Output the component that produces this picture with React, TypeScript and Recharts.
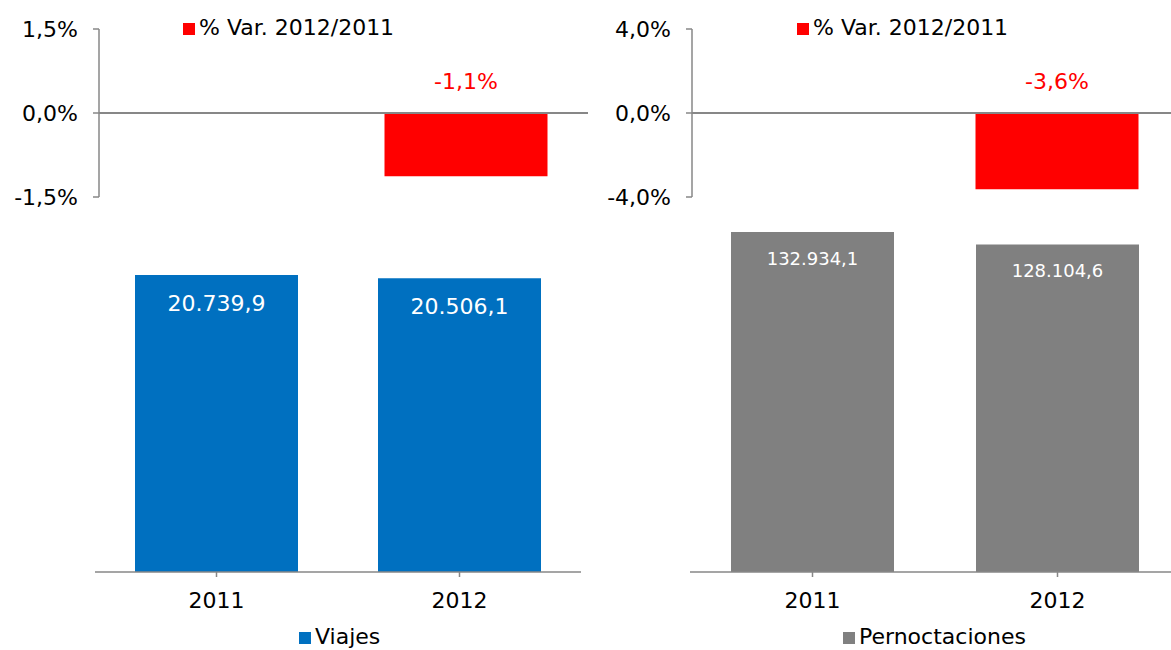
import React from "react";
import { BarChart, Bar, XAxis, YAxis, ReferenceLine, LabelList, Legend } from "recharts";

const years = ["2011", "2012"];
const viajes = [20739.9, 20506.1];
const pernoctaciones = [132934.1, 128104.6];
const varViajes = [null, -1.13];
const varPernoctaciones = [null, -3.63];
const viajesPctTicks = [-1.5, 0, 1.5];
const pernoctPctTicks = [-4, 0, 4];

const FONT = "'DejaVu Sans', Verdana, sans-serif";
const AXIS = "#878787";
const BLUE = "#0070C0";
const GREY = "#808080";
const RED = "#FF0000";

const pct = (v: number) => v.toFixed(1).replace(".", ",") + "%";
const num = (v: number) => {
  const [i, d] = v.toFixed(1).split(".");
  return i.replace(/\B(?=(\d{3})+(?!\d))/g, ".") + "," + d;
};

const legendText = (v: string) => <span style={{ color: "#000" }}>{v}</span>;

function VarLabel(props: any) {
  const { x, y, width, height, value } = props;
  if (value == null) return null;
  const top = Math.min(y, y + height);
  return (
    <text x={x + width / 2} y={top - 32} textAnchor="middle" dominantBaseline="central"
      fill={RED} fontSize={22} fontFamily={FONT}>
      {pct(value)}
    </text>
  );
}

function makeValueLabel(size: number, dy: number) {
  return function ValueLabel(props: any) {
    const { x, y, width, value } = props;
    return (
      <text x={x + width / 2} y={y + dy} textAnchor="middle" dominantBaseline="central"
        fill="#fff" fontSize={size} fontFamily={FONT}>
        {num(value)}
      </text>
    );
  };
}

function VarChart({ values, ticks, legendLeft, marginRight }: any) {
  const data = years.map((year, i) => ({ year, v: values[i] }));
  const max = ticks[ticks.length - 1];
  return (
    <BarChart width={600} height={220} data={data} margin={{ top: 29, right: marginRight, left: 0, bottom: 23 }}>
      <XAxis dataKey="year" hide />
      <YAxis
        width={99}
        domain={[-max, max]}
        ticks={ticks}
        tickFormatter={pct}
        axisLine={{ stroke: AXIS, strokeWidth: 1.5 }}
        tickLine={{ stroke: AXIS, strokeWidth: 1.5 }}
        tickSize={6}
        tickMargin={15}
        tick={{ fill: "#000", fontSize: 22, fontFamily: FONT }}
        interval={0}
      />
      <ReferenceLine y={0} stroke={AXIS} strokeWidth={2} />
      <Legend
        verticalAlign="top"
        align="left"
        iconType="square"
        iconSize={12}
        formatter={legendText}
        wrapperStyle={{ left: legendLeft, top: 15, width: "auto", height: 0, fontSize: 22, fontFamily: FONT, whiteSpace: "nowrap" }}
      />
      <Bar dataKey="v" name="% Var. 2012/2011" fill={RED} barSize={163} isAnimationActive={false}>
        <LabelList dataKey="v" content={VarLabel} />
      </Bar>
    </BarChart>
  );
}

function LevelChart({ values, name, color, max, legendLeft, marginLeft, marginRight, labelSize, labelDy }: any) {
  const data = years.map((year, i) => ({ year, v: values[i] }));
  return (
    <BarChart width={600} height={450} data={data} margin={{ top: 14, right: marginRight, left: marginLeft, bottom: 38 }}>
      <XAxis
        dataKey="year"
        height={40}
        axisLine={{ stroke: AXIS, strokeWidth: 1.5 }}
        tickLine={{ stroke: AXIS, strokeWidth: 1.5 }}
        tickSize={5}
        tickMargin={15}
        tick={{ fill: "#000", fontSize: 22, fontFamily: FONT }}
      />
      <YAxis hide domain={[0, max]} />
      <Legend
        verticalAlign="bottom"
        align="left"
        iconType="square"
        iconSize={12}
        formatter={legendText}
        wrapperStyle={{ left: legendLeft, top: 424, bottom: "auto", width: "auto", height: 0, fontSize: 22, fontFamily: FONT, whiteSpace: "nowrap" }}
      />
      <Bar dataKey="v" name={name} fill={color} barSize={163} isAnimationActive={false}>
        <LabelList dataKey="v" content={makeValueLabel(labelSize, labelDy)} />
      </Bar>
    </BarChart>
  );
}

export default function App() {
  const pos = (left: number, top: number): React.CSSProperties => ({ position: "absolute", left, top });
  return (
    <div style={{ position: "absolute", left: 0, top: 0, width: 1171, height: 650, overflow: "hidden", background: "#fff", fontFamily: FONT }}>
      <div style={pos(0, 0)}>
        <VarChart values={varViajes} ticks={viajesPctTicks} legendLeft={183} marginRight={12} />
      </div>
      <div style={pos(593, 0)}>
        <VarChart values={varPernoctaciones} ticks={pernoctPctTicks} legendLeft={204} marginRight={14} />
      </div>
      <div style={pos(0, 200)}>
        <LevelChart values={viajes} name="Viajes" color={BLUE} max={25000} legendLeft={299}
          marginLeft={95} marginRight={19} labelSize={22} labelDy={28} />
      </div>
      <div style={pos(593, 200)}>
        <LevelChart values={pernoctaciones} name="Pernoctaciones" color={GREY} max={140000} legendLeft={250}
          marginLeft={97} marginRight={13} labelSize={18} labelDy={26} />
      </div>
    </div>
  );
}
